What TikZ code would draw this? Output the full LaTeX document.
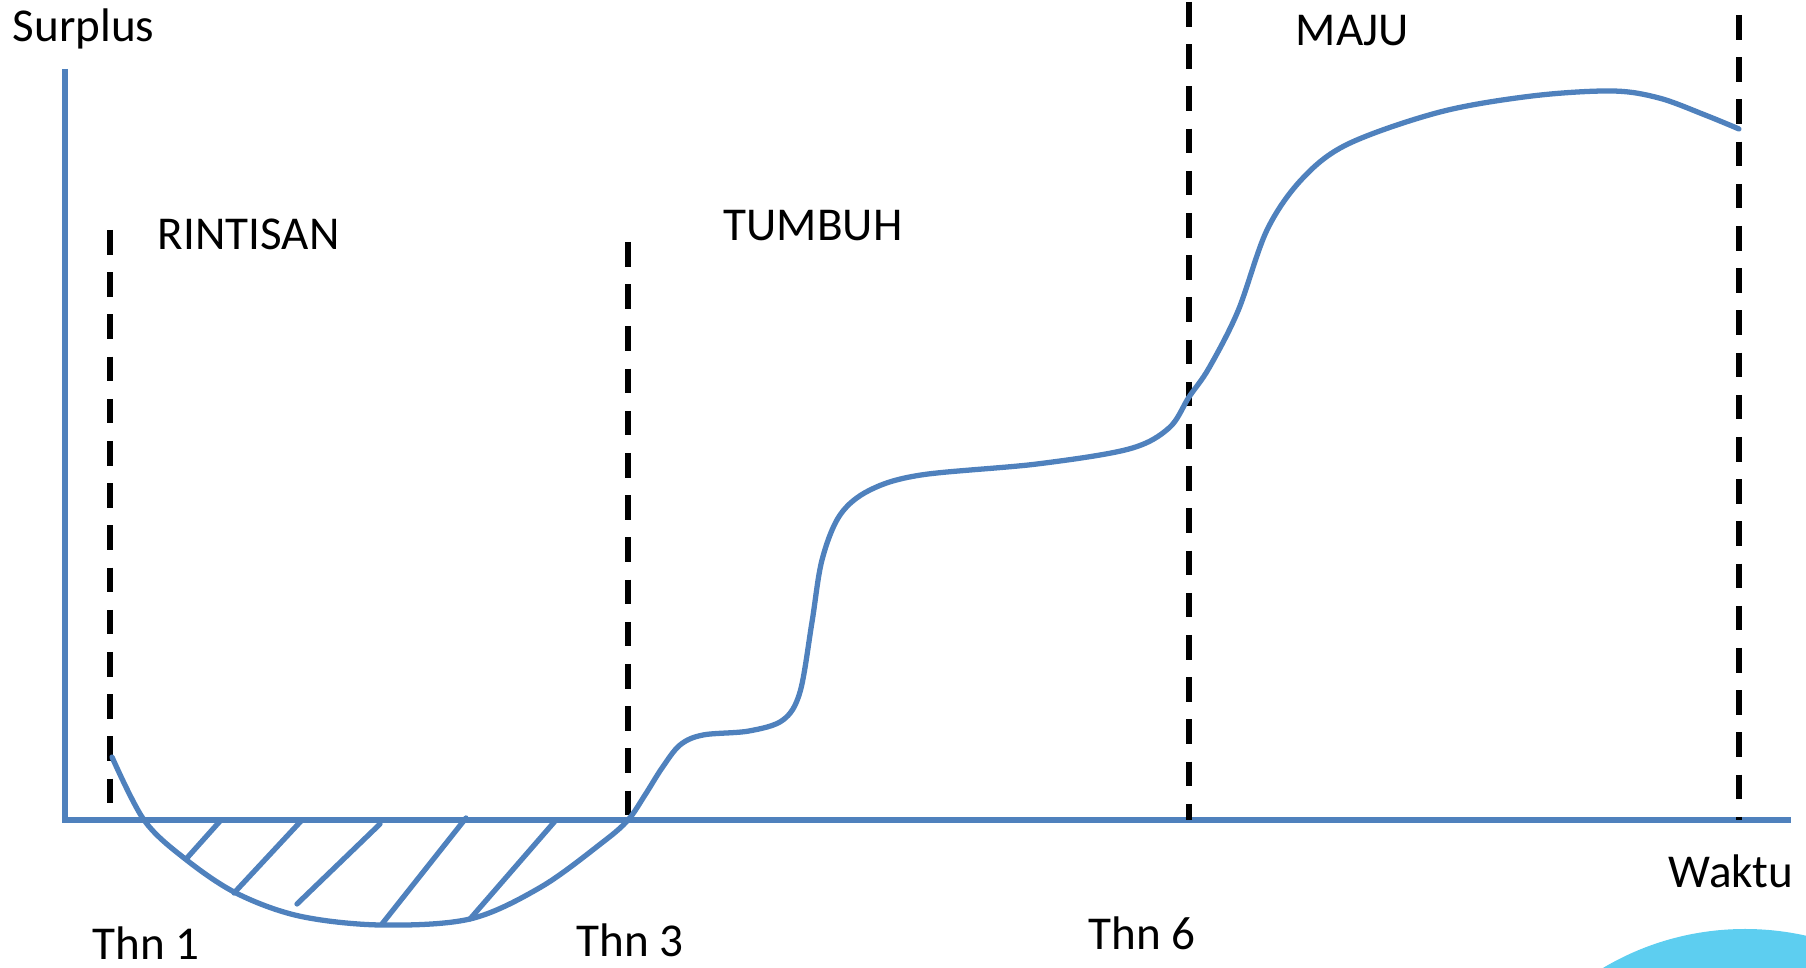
\documentclass[tikz,border=0pt]{standalone}
\usepackage{fontspec}
\setmainfont{Carlito}
\definecolor{curveblue}{RGB}{79,129,189}
\definecolor{logoblue}{RGB}{93,206,240}
\begin{document}
\begin{tikzpicture}[x=0.01cm,y=-0.01cm,
  bl/.style={draw=curveblue,line width=1.5pt,line cap=round},
  dsh/.style={draw=black,line width=1.7pt,dash pattern=on 7pt off 5pt},
  lbl/.style={inner sep=0pt,anchor=base west,font=\fontsize{13.4}{16}\selectfont}]
\useasboundingbox (0,0) rectangle (1806,968);
\begin{scope}
\clip (0,0) rectangle (1806,968);
\fill[logoblue] (1745,1207) circle (278);
\end{scope}
% axes
\draw[bl,line cap=butt] (65,69) -- (65,820) -- (1791,820);
% dashed phase lines
\draw[dsh] (110,230) -- (110,820);
\draw[dsh] (628,242) -- (628,820);
\draw[dsh] (1189,2) -- (1189,820);
\draw[dsh] (1739,15) -- (1739,820);
% curve
\draw[bl] plot[smooth,tension=0.55] coordinates {
 (112,757) (144,820) (184,858) (236,893) (299,916) (380,925) (470,919)
 (541,887) (603,842) (628,820) (645,795) (662,768) (680,745) (703,735)
 (749,731) (783,720) (800,692) (812,622) (822,560) (840,515) (870,490)
 (921,475) (1037,464) (1129,449) (1169,428) (1189,397) (1209,368)
 (1238,311) (1267,230) (1302,179) (1348,144) (1440,112) (1532,96)
 (1612,91) (1659,98) (1705,115) (1739,129)};
% hatch
\draw[bl] (221,820) -- (187,858);
\draw[bl] (302,820) -- (234,893);
\draw[bl] (380,824) -- (297,904);
\draw[bl] (466,818) -- (382,924);
\draw[bl] (556,820) -- (470,919);
% labels
\node[lbl] (surplus) at (12,42) {Surplus};
\node[lbl] (rintisan) at (157,250) {RINTISAN};
\node[lbl] (tumbuh) at (723,241) {TUMBUH};
\node[lbl] (maju) at (1295,46) {MAJU};
\node[lbl] (thn1) at (92,960) {Thn 1};
\node[lbl] (thn3) at (576,957) {Thn 3};
\node[lbl] (thn6) at (1088,950) {Thn 6};
\node[lbl] (waktu) at (1668,888) {Waktu};
\end{tikzpicture}
\end{document}
